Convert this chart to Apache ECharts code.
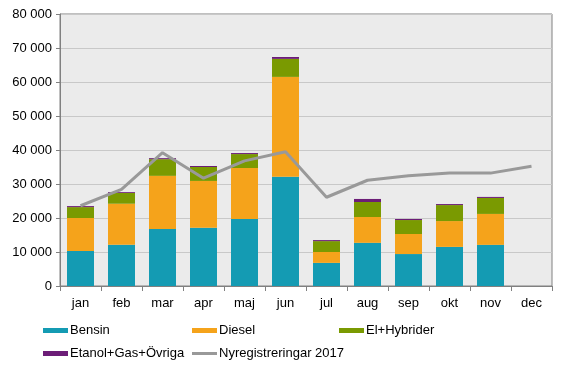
<!DOCTYPE html>
<html><head><meta charset="utf-8">
<script src="https://cdn.jsdelivr.net/npm/echarts@6/dist/echarts.min.js"></script>
<style>html,body{margin:0;padding:0;background:#fff}#c{width:567px;height:370px}</style>
</head><body><div id="c"></div>
<script>
var categories = ['jan','feb','mar','apr','maj','jun','jul','aug','sep','okt','nov','dec'];
var bensin = [10300,12100,16800,17100,19700,32100,6800,12700,9400,11500,12100,null];
var diesel = [9700,12100,15600,13800,15000,29400,3200,7600,5900,7600,9100,null];
var elHybrider = [3200,3150,4900,4100,4100,5300,3200,4400,4100,4700,4700,null];
var etanolGasOvriga = [300,250,300,300,300,550,300,900,300,300,300,null];
var nyreg2017 = [23600,28400,39200,31700,36800,39500,26100,31100,32400,33200,33200,35200];
var yTicks = [0,10000,20000,30000,40000,50000,60000,70000,80000];

var chart = echarts.init(document.getElementById('c'), null, {renderer:'canvas'});
var font = 'Liberation Sans, Arial, sans-serif';
function fmt(v){ return String(v).replace(/\B(?=(\d{3})+(?!\d))/g,' '); }
var names = ['Bensin','Diesel','El+Hybrider','Etanol+Gas+Övriga','Nyregistreringar 2017'];
var colors = ['#149bb3','#f5a31b','#7a9a01','#6c1d77','#999999'];
var legPos = [[43,324],[192,324],[339,324],[43,347],[192,347]];
var legends = names.map(function(n,i){
  return {data:[{name:n, icon: 'rect'}], left:legPos[i][0], top:legPos[i][1], itemWidth:25, itemHeight:i===4?3:5, itemGap:0,
    textStyle:{fontFamily:font,fontSize:13,color:'#000',padding:[0,0,0,-3]}, padding:0, selectedMode:false};
});
function bar(name, data, color){
  return {name:name, type:'bar', stack:'s', data:data, barWidth:27, itemStyle:{color:color}, animation:false};
}
chart.setOption({
  animation:false,
  legend: legends,
  grid:{left:60,right:15,top:14,bottom:84,containLabel:false,show:true,backgroundColor:'#ebebeb',borderColor:'#808080',borderWidth:1},
  xAxis:{type:'category',data:categories,
    axisLine:{lineStyle:{color:'#808080'}},
    axisTick:{show:true,length:5,alignWithLabel:false,lineStyle:{color:'#808080'}},
    axisLabel:{fontFamily:font,fontSize:13,color:'#000',margin:11}},
  yAxis:{type:'value',min:0,max:80000,interval:10000,
    axisLine:{show:true,lineStyle:{color:'#808080'}},
    axisTick:{show:true,length:4,lineStyle:{color:'#808080'}},
    axisLabel:{fontFamily:font,fontSize:13,color:'#000',margin:8,
      formatter:function(v){ return yTicks.indexOf(v)>=0 ? fmt(v) : ''; }},
    splitLine:{show:true,lineStyle:{color:'#c8c8c8',width:1}}},
  series:[
    bar(names[0],bensin,colors[0]),
    bar(names[1],diesel,colors[1]),
    bar(names[2],elHybrider,colors[2]),
    bar(names[3],etanolGasOvriga,colors[3]),
    {name:names[4],type:'line',data:nyreg2017,symbol:'none',lineStyle:{color:colors[4],width:3},itemStyle:{color:colors[4]},z:5}
  ]
});
</script></body></html>
